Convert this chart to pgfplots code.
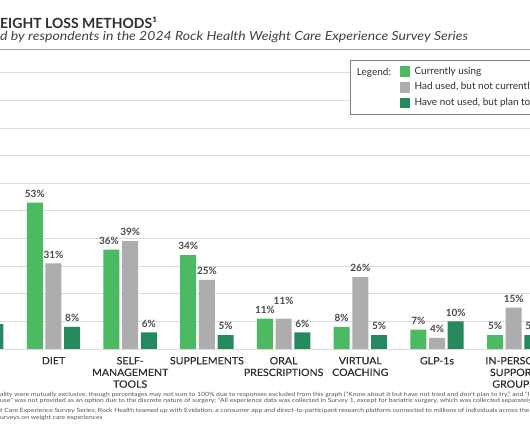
\documentclass[border=0pt]{standalone}
\usepackage{pgfplots}
\usepackage{pgfplotstable}
\pgfplotsset{compat=1.18}
\usepackage{fontspec}
\setmainfont{Lato}
\newfontfamily\subfont{Lato}[FakeStretch=1.125]
\newfontfamily\footfont{Lato}[FakeStretch=1.17]
\newfontfamily\tickfont{Lato}[FakeStretch=1.06,FakeBold=0.4]
\definecolor{cgreen}{HTML}{4CB963}
\definecolor{cgray}{HTML}{ADADAD}
\definecolor{cdark}{HTML}{26895E}
\definecolor{cgrid}{HTML}{DCDCDC}
\definecolor{ctext}{HTML}{2E2E2E}
\definecolor{clabel}{HTML}{4A4A4A}
\definecolor{cfoot}{HTML}{555555}

\pgfplotstableread{
x y dx dy
1 53 0 0
2 36 -2.5 0
3 34 0 0
4 11 0 0
5 8 0 0
6 7 0 0
7 5 0 0
}\cur
\pgfplotstableread{
x y dx dy
1 31 0 0
2 39 0 0
3 25 0 0
4 11 0 9
5 26 0 0
6 4 0 0
7 15 0 0
}\had
\pgfplotstableread{
x y dx dy
0 9 0 0
1 8 0 0
2 6 0 0
3 5 0 0
4 6 0 0
5 5 0 0
6 10 0 0
7 5 0 0
}\plan

\begin{document}
\begin{tikzpicture}
\useasboundingbox (0pt,0pt) rectangle (530pt,442pt);
\clip (0pt,0pt) rectangle (530pt,442pt);
\fill[white] (0pt,0pt) rectangle (530pt,442pt);

\node[anchor=base west, inner sep=0pt, text=ctext, font=\bfseries\fontsize{14}{16}\selectfont] at (0pt,413.7pt) {EIGHT LOSS METHODS¹};
\node[anchor=base west, inner sep=0pt, text=ctext!90, font=\subfont\itshape\fontsize{12.5}{14}\selectfont] at (0pt,401.5pt) {d by respondents in the 2024 Rock Health Weight Care Experience Survey Series};
\draw[gray!75, line width=1.3pt] (0pt,392.5pt) -- (530pt,392.5pt);

\begin{axis}[
  at={(0pt,93pt)}, anchor=south west,
  scale only axis, width=530pt, height=276.3pt,
  xmin=0.3025, xmax=7.2125, ymin=0, ymax=100,
  ybar=2.7pt, bar width=16pt,
  axis line style={draw=none},
  major tick length=0pt,
  ytick={0,10,...,100}, yticklabels={},
  ymajorgrids, grid style={cgrid, line width=0.8pt},
  xtick={1,...,7},
  xticklabels={DIET,{SELF-\\MANAGEMENT\\TOOLS},SUPPLEMENTS,{ORAL\\PRESCRIPTIONS},{VIRTUAL\\COACHING},GLP-1s,{IN-PERSON\\SUPPORT\\GROUPS}},
  xticklabel style={align=center, font=\tickfont\fontsize{10}{11.7}\selectfont, text=ctext, yshift=-4.5pt},
  /pgf/number format/assume math mode=true,
  visualization depends on={\thisrow{dx} \as \myDX},
  visualization depends on={\thisrow{dy} \as \myDY},
  nodes near coords={\pgfmathprintnumber{\pgfplotspointmeta}\%},
  every node near coord/.append style={font=\bfseries\fontsize{10}{12}\selectfont, text=clabel, yshift=1.7pt, xshift={\myDX*1pt}, yshift={\myDY*1pt}},
  legend image code/.code={\path[#1, draw=none] (0pt,-5.35pt) rectangle (10.7pt,5.35pt);},
  legend style={at={(0.6604,1.046)}, anchor=north west, draw=gray, line width=0.6pt, fill=white, inner xsep=49.3pt, inner ysep=6pt, row sep=5pt, column sep=4.3pt, font=\fontsize{10}{12}\selectfont, text=ctext, nodes={inner sep=0pt, text height=8pt, text depth=2.7pt}},
  legend cell align=left,
]
\addplot[fill=cgreen, draw=none] table[x=x,y=y]{\cur};
\addlegendentry{Currently using}
\addplot[fill=cgray, draw=none] table[x=x,y=y]{\had};
\addlegendentry{Had used, but not currently using}
\addplot[fill=cdark, draw=none] table[x=x,y=y]{\plan};
\addlegendentry{Have not used, but plan to use}
\end{axis}

\node[anchor=base west, inner sep=0pt, text=ctext, font=\fontsize{10}{12}\selectfont] at (356.7pt,366pt) {Legend:};

\begin{scope}[every node/.style={anchor=base west, inner sep=0pt, text=cfoot, font=\footfont\fontsize{5.8}{6.5}\selectfont}]
\node at (0pt,46pt) {ality were mutually exclusive, though percentages may not sum to 100\% due to responses excluded from this graph (“Know about it but have not tried and don’t plan to try,” and “I don’t know”)};
\node at (0pt,39.8pt) {use” was not provided as an option due to the discrete nature of surgery; ²All experience data was collected in Survey 1, except for bariatric surgery, which was collected separately.};
\node at (0pt,29.3pt) {t Care Experience Survey Series; Rock Health teamed up with Evidation, a consumer app and direct-to-participant research platform connected to millions of individuals across the US, to conduct};
\node at (0pt,22.6pt) {urveys on weight care experiences};
\end{scope}
\end{tikzpicture}
\end{document}
